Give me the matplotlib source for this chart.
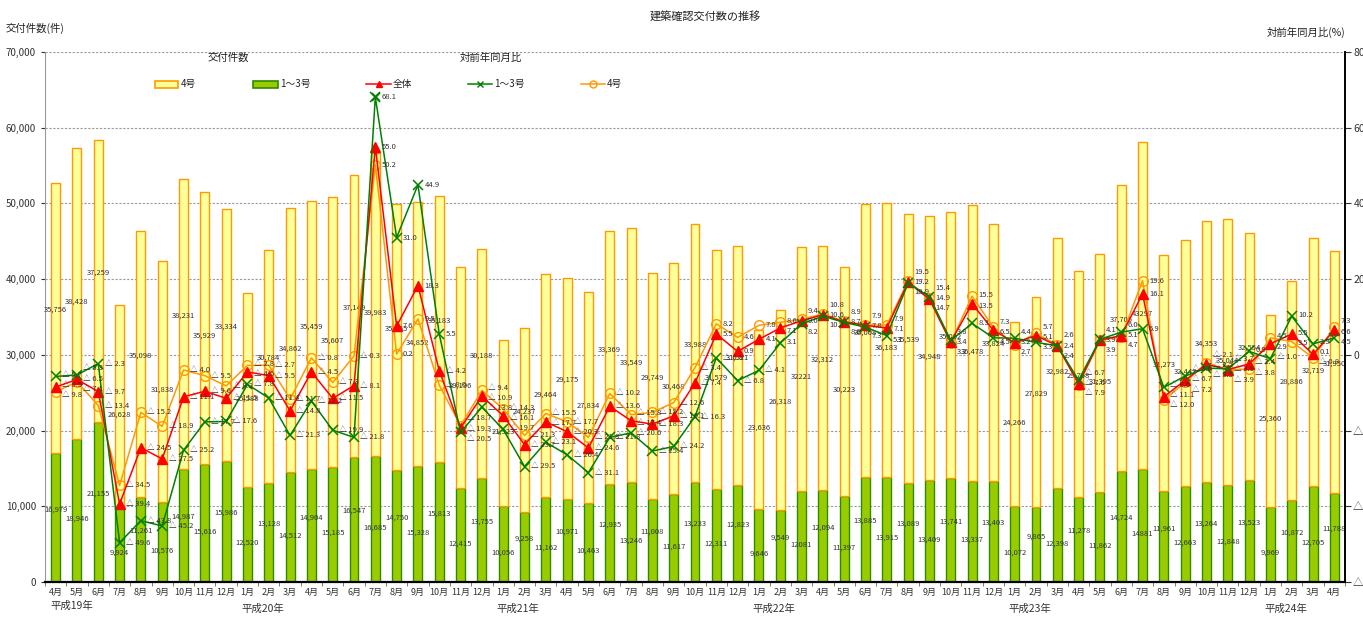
import matplotlib
matplotlib.use('Agg')
import matplotlib.pyplot as plt
import numpy as np
from matplotlib.patches import Rectangle
from matplotlib.lines import Line2D
from matplotlib.ticker import FuncFormatter

plt.rcParams['font.family'] = ['Noto Sans CJK JP', 'DejaVu Sans']

# ---------------- data ----------------
months = ['4月', '5月', '6月', '7月', '8月', '9月', '10月', '11月', '12月',
          '1月', '2月', '3月', '4月', '5月', '6月', '7月', '8月', '9月', '10月', '11月', '12月',
          '1月', '2月', '3月', '4月', '5月', '6月', '7月', '8月', '9月', '10月', '11月', '12月',
          '1月', '2月', '3月', '4月', '5月', '6月', '7月', '8月', '9月', '10月', '11月', '12月',
          '1月', '2月', '3月', '4月', '5月', '6月', '7月', '8月', '9月', '10月', '11月', '12月',
          '1月', '2月', '3月', '4月']
years = ['平成19年', '平成20年', '平成21年', '平成22年', '平成23年', '平成24年']
year_start = [0, 9, 21, 33, 45, 57]

# 交付件数 1～3号
cnt13 = [16979, 18946, 21155, 9924, 11261, 10576, 14987, 15616, 15986,
         12520, 13128, 14512, 14904, 15185, 16547, 16685, 14750, 15328, 15813, 12415, 13755,
         10056, 9258, 11162, 10971, 10463, 12935, 13246, 11008, 11617, 13233, 12311, 12823,
         9646, 9549, 12081, 12094, 11397, 13885, 13915, 13089, 13409, 13741, 13337, 13403,
         10072, 9865, 12398, 11278, 11862, 14724, 14881, 11961, 12663, 13264, 12848, 13523,
         9969, 10872, 12705, 11788]
# 交付件数 4号
cnt4 = [35756, 38428, 37259, 26628, 35098, 31838, 38231, 35929, 33334,
        25588, 30784, 34862, 35459, 35607, 37149, 39983, 35155, 34852, 35183, 29196, 30188,
        21923, 24237, 29464, 29175, 27834, 33369, 33549, 29749, 30468, 33988, 31579, 31521,
        23636, 26318, 32221, 32312, 30223, 36008, 36183, 35539, 34948, 35092, 36478, 33824,
        24266, 27829, 32982, 29768, 31395, 37705, 43297, 31273, 32443, 34353, 35044, 32554,
        25360, 28886, 32719, 31950]
# labels printed without thousands separator in the source
no_comma = [35, 51]

# 対前年同月比 (%)
pct_all = [-8.5, -6.5, -9.7, -39.4, -24.5, -27.5, -11.1, -9.6, -11.5,
           -4.5, -5.5, -14.8, -4.5, -11.5, -8.1, 55.0, 7.6, 18.3, -4.2, -19.3, -10.9,
           -16.1, -23.7, -17.7, -20.3, -24.6, -13.6, -17.4, -18.3, -16.1, -7.4, 5.5, 0.9,
           4.1, 7.1, 9.0, 10.6, 8.7, 7.8, 7.1, 19.2, 14.7, 3.4, 13.5, 6.5,
           3.2, 5.1, 2.4, -7.6, 3.9, 5.1, 16.1, -11.1, -6.7, -2.5, -3.9, -2.4,
           2.9, 5.5, 0.1, 6.6]
pct_13 = [-5.7, -5.3, -2.3, -49.6, -43.8, -45.2, -25.2, -17.7, -17.6,
          -7.8, -11.4, -21.3, -12.2, -19.9, -21.8, 68.1, 31.0, 44.9, 5.5, -20.5, -13.8,
          -19.7, -29.5, -23.1, -26.4, -31.1, -21.8, -20.6, -25.4, -24.2, -16.3, -0.8, -6.8,
          -4.1, 3.1, 8.2, 10.2, 8.6, 7.3, 5.1, 18.9, 15.4, 3.8, 8.3, 4.5,
          4.4, 3.3, 2.4, -6.7, 4.1, 6.0, 6.9, -8.6, -5.6, -3.5, -3.7, 0.9,
          -1.0, 10.2, 2.9, 4.5]
pct_4 = [-9.8, -7.1, -13.4, -34.5, -15.2, -18.9, -4.0, -5.5, -8.2,
         -2.8, -2.7, -11.7, -0.8, -7.3, -0.3, 50.2, 0.2, 9.5, -8.0, -18.7, -9.4,
         -14.3, -21.3, -15.5, -17.7, -21.8, -10.2, -15.8, -15.2, -12.6, -3.4, 8.2, 4.6,
         7.8, 8.6, 9.4, 10.8, 8.9, 7.9, 7.9, 19.5, 14.9, 3.2, 15.5, 7.3,
         2.7, 5.7, 2.6, -7.9, 3.9, 4.7, 19.6, -12.0, -7.2, -2.1, -3.9, -3.8,
         4.5, 3.5, -0.8, 7.3]

# ---------------- figure ----------------
W, H = 1363, 617
fig = plt.figure(figsize=(W / 100, H / 100), dpi=100)
ax = fig.add_axes([45 / W, 35 / H, 1300 / W, 530 / H])

x = np.arange(len(months))
c13 = np.array(cnt13)
c4 = np.array(cnt4)
bw = 0.42

ax.bar(x, c13, width=bw, color='#99CC00', edgecolor='#2E8B00', linewidth=1.0, zorder=2)
ax.bar(x, c4, bottom=c13, width=bw, color='#FFFF99', edgecolor='#FF9900', linewidth=1.0, zorder=2)

def fmt_cnt(i, v):
    return f'{v}' if i in no_comma else f'{v:,}'

for i in x:
    dy = 6 if i % 2 == 0 else -6   # stagger neighbouring labels (points)
    ax.annotate(fmt_cnt(i, c13[i]), xy=(i, c13[i] / 2), xytext=(0, dy),
                textcoords='offset points', ha='center', va='center',
                fontsize=5.5, color='#333333', zorder=5)
    ax.annotate(fmt_cnt(i, c4[i]), xy=(i, c13[i] + c4[i] / 2), xytext=(0, dy),
                textcoords='offset points', ha='center', va='center',
                fontsize=5.5, color='#333333', zorder=5)

ax.set_xlim(-0.5, len(months) - 0.5)
ax.set_ylim(0, 70000)
ax.set_yticks(np.arange(0, 70001, 10000))
ax.yaxis.set_major_formatter(FuncFormatter(lambda v, p: f'{int(v):,}'))
ax.tick_params(axis='y', labelsize=7, length=3, colors='#333333')
ax.yaxis.grid(True, linestyle=(0, (2, 1.5)), color='#999999', linewidth=0.8, zorder=0)
ax.set_axisbelow(True)

ax.set_xticks(x)
ax.set_xticklabels(months, fontsize=6.5, color='#333333')
ax.set_xticks(np.arange(-0.5, len(months), 1), minor=True)
ax.tick_params(axis='x', which='major', length=0, pad=4)
ax.tick_params(axis='x', which='minor', length=3, color='#666666')

ax.spines['top'].set_visible(False)
ax.spines['left'].set_color('#999999')
ax.spines['left'].set_linewidth(0.8)
ax.spines['bottom'].set_color('black')
ax.spines['bottom'].set_linewidth(1.6)
ax.spines['right'].set_visible(False)

for yr, si in zip(years, year_start):
    off = -0.25 if si == 0 else -0.3
    dy = -17 if si == 0 else -19
    ax.annotate(yr, xy=(si + off, 0), xycoords=('data', 'axes fraction'),
                xytext=(0, dy), textcoords='offset points', ha='left', va='center',
                fontsize=7.5, color='#333333')

# ---------------- right axis ----------------
ax2 = ax.twinx()
ax2.set_ylim(-60, 80)
ax2.set_yticks(np.arange(-60, 81, 20))

def fmt_pct_axis(v, p):
    v = int(round(v))
    return f'△ {abs(v)}' if v < 0 else f'{v}'

ax2.yaxis.set_major_formatter(FuncFormatter(fmt_pct_axis))
ax2.tick_params(axis='y', labelsize=7.5, length=4, pad=2, colors='#333333')
ax2.spines['right'].set_color('black')
ax2.spines['right'].set_linewidth(1.4)
for s in ['top', 'left', 'bottom']:
    ax2.spines[s].set_visible(False)

ax2.plot(x, pct_4, color='#FF9900', linewidth=1.1, marker='o', markersize=7,
         markerfacecolor='none', markeredgecolor='#FF9900', markeredgewidth=1.0, zorder=3)
ax2.plot(x, pct_all, color='#FF0000', linewidth=1.1, marker='^', markersize=7,
         markerfacecolor='#FF0000', markeredgecolor='#FF0000', zorder=4)
ax2.plot(x, pct_13, color='#008000', linewidth=1.1, marker='x', markersize=7,
         markeredgewidth=1.1, zorder=5)

def fmt_pct(v):
    return f'△ {abs(v):.1f}' if v < 0 else f'{v:.1f}'

gap = 2.7  # minimum vertical separation of the three labels of one month (% units)
for i in range(len(months)):
    vals = sorted([pct_all[i], pct_13[i], pct_4[i]], reverse=True)
    ys = []
    for k, v in enumerate(vals):
        ys.append(v if k == 0 else min(v, ys[-1] - gap))
    shift = (np.mean(vals) - np.mean(ys))
    for v, yv in zip(vals, ys):
        ax2.text(i + 0.3, yv + shift, fmt_pct(v), ha='left', va='center', fontsize=5.5,
                 color='#333333', zorder=6)

# ---------------- overlay: titles and legend ----------------
ov = fig.add_axes([0, 0, 1, 1], facecolor='none')
ov.set_xlim(0, W)
ov.set_ylim(H, 0)
ov.axis('off')

ov.text(705, 17, '建築確認交付数の推移', ha='center', va='center', fontsize=8, color='#222222')
ov.text(6, 28, '交付件数(件)', ha='left', va='center', fontsize=7.5, color='#222222')
ov.text(1345, 32, '対前年同月比(%)', ha='right', va='center', fontsize=7.5, color='#222222')

ov.text(228, 58, '交付件数', ha='center', va='center', fontsize=7.5, color='#222222')
ov.text(491, 58, '対前年同月比', ha='center', va='center', fontsize=7.5, color='#222222')

ly = 84
ov.add_patch(Rectangle((155, ly - 3.5), 23, 7, facecolor='#FFFF99', edgecolor='#FF9900', lw=1.2))
ov.text(181, ly, '4号', ha='left', va='center', fontsize=7, color='#222222')
ov.add_patch(Rectangle((253, ly - 3.5), 25, 7, facecolor='#99CC00', edgecolor='#2E8B00', lw=1.2))
ov.text(280, ly, '1～3号', ha='left', va='center', fontsize=7, color='#222222')
ov.add_line(Line2D([366, 391], [ly, ly], color='#FF0000', lw=1.1))
ov.plot([378.5], [ly], marker='^', color='#FF0000', markersize=5)
ov.text(393, ly, '全体', ha='left', va='center', fontsize=7, color='#222222')
ov.add_line(Line2D([468, 492], [ly, ly], color='#008000', lw=1.1))
ov.plot([480], [ly], marker='x', color='#008000', markersize=5)
ov.text(494, ly, '1～3号', ha='left', va='center', fontsize=7, color='#222222')
ov.add_line(Line2D([581, 605], [ly, ly], color='#FF9900', lw=1.1))
ov.plot([593], [ly], marker='o', color='#FF9900', markerfacecolor='none', markersize=5)
ov.text(607, ly, '4号', ha='left', va='center', fontsize=7, color='#222222')
ov.plot([376], [97], marker='x', color='#008000', markersize=6, markeredgewidth=1.1)

fig.savefig('out.png', dpi=100)
